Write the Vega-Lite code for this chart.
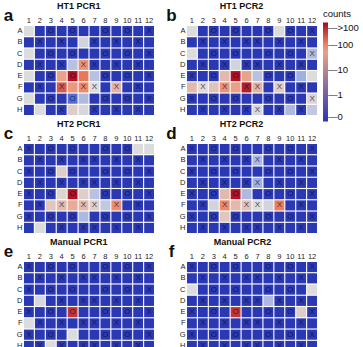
{
"$schema": "https://vega.github.io/schema/vega-lite/v6.json",
"padding": {"left": 3, "top": 2, "right": 0, "bottom": 0},
"background": "white",
"config": {
  "font": "Liberation Sans",
  "view": {"stroke": null},
  "axis": {"ticks": false, "domain": false, "grid": false, "labelFontSize": 7.5, "labelPadding": 2, "labelColor": "#222", "labelFont": "Liberation Sans"},
  "axisX": {"orient": "top", "labelAngle": 0},
  "axisY": {"titleAngle": 0, "titleFontSize": 17, "titleFontWeight": "bold", "titleX": -16, "titleY": -6, "titleAlign": "center", "titleBaseline": "alphabetic", "titleColor": "#111", "titleFont": "Liberation Sans"},
  "title": {"fontSize": 9, "fontWeight": "bold", "font": "Liberation Sans", "frame": "bounds", "anchor": "middle", "offset": -5, "color": "#111"},
  "legend": {"titleFont": "Liberation Sans", "labelFont": "Liberation Sans"}
},
"data": {"values": [
{"p":"a","r":"A","c":1,"v":10,"s":""},{"p":"a","r":"A","c":2,"v":0,"s":""},{"p":"a","r":"A","c":3,"v":0,"s":"O"},{"p":"a","r":"A","c":4,"v":0,"s":""},{"p":"a","r":"A","c":5,"v":0,"s":"O"},{"p":"a","r":"A","c":6,"v":0,"s":""},{"p":"a","r":"A","c":7,"v":0,"s":""},{"p":"a","r":"A","c":8,"v":0,"s":"O"},{"p":"a","r":"A","c":9,"v":0,"s":""},{"p":"a","r":"A","c":10,"v":0,"s":"O"},{"p":"a","r":"A","c":11,"v":0,"s":""},{"p":"a","r":"A","c":12,"v":0,"s":"X"},
{"p":"a","r":"B","c":1,"v":0,"s":""},{"p":"a","r":"B","c":2,"v":0,"s":"X"},{"p":"a","r":"B","c":3,"v":0,"s":""},{"p":"a","r":"B","c":4,"v":0,"s":"X"},{"p":"a","r":"B","c":5,"v":0,"s":""},{"p":"a","r":"B","c":6,"v":8,"s":""},{"p":"a","r":"B","c":7,"v":0,"s":"X"},{"p":"a","r":"B","c":8,"v":0,"s":""},{"p":"a","r":"B","c":9,"v":0,"s":"X"},{"p":"a","r":"B","c":10,"v":0,"s":""},{"p":"a","r":"B","c":11,"v":0,"s":"X"},{"p":"a","r":"B","c":12,"v":0,"s":""},
{"p":"a","r":"C","c":1,"v":10,"s":""},{"p":"a","r":"C","c":2,"v":0,"s":""},{"p":"a","r":"C","c":3,"v":0,"s":"O"},{"p":"a","r":"C","c":4,"v":0,"s":""},{"p":"a","r":"C","c":5,"v":0,"s":"O"},{"p":"a","r":"C","c":6,"v":0,"s":""},{"p":"a","r":"C","c":7,"v":0,"s":""},{"p":"a","r":"C","c":8,"v":0,"s":"O"},{"p":"a","r":"C","c":9,"v":0,"s":""},{"p":"a","r":"C","c":10,"v":0,"s":"O"},{"p":"a","r":"C","c":11,"v":0,"s":""},{"p":"a","r":"C","c":12,"v":0,"s":"X"},
{"p":"a","r":"D","c":1,"v":0,"s":""},{"p":"a","r":"D","c":2,"v":0,"s":"X"},{"p":"a","r":"D","c":3,"v":0,"s":""},{"p":"a","r":"D","c":4,"v":0,"s":"X"},{"p":"a","r":"D","c":5,"v":5,"s":""},{"p":"a","r":"D","c":6,"v":70,"s":"X"},{"p":"a","r":"D","c":7,"v":0,"s":"X"},{"p":"a","r":"D","c":8,"v":0,"s":""},{"p":"a","r":"D","c":9,"v":0,"s":"X"},{"p":"a","r":"D","c":10,"v":0,"s":""},{"p":"a","r":"D","c":11,"v":0,"s":"X"},{"p":"a","r":"D","c":12,"v":0,"s":""},
{"p":"a","r":"E","c":1,"v":10,"s":""},{"p":"a","r":"E","c":2,"v":0,"s":""},{"p":"a","r":"E","c":3,"v":0,"s":"O"},{"p":"a","r":"E","c":4,"v":45,"s":""},{"p":"a","r":"E","c":5,"v":600,"s":"O"},{"p":"a","r":"E","c":6,"v":120,"s":""},{"p":"a","r":"E","c":7,"v":5,"s":""},{"p":"a","r":"E","c":8,"v":0,"s":"O"},{"p":"a","r":"E","c":9,"v":0,"s":""},{"p":"a","r":"E","c":10,"v":0,"s":"O"},{"p":"a","r":"E","c":11,"v":0,"s":""},{"p":"a","r":"E","c":12,"v":0,"s":"X"},
{"p":"a","r":"F","c":1,"v":0,"s":""},{"p":"a","r":"F","c":2,"v":0,"s":"X"},{"p":"a","r":"F","c":3,"v":0,"s":""},{"p":"a","r":"F","c":4,"v":200,"s":"X"},{"p":"a","r":"F","c":5,"v":60,"s":""},{"p":"a","r":"F","c":6,"v":90,"s":"X"},{"p":"a","r":"F","c":7,"v":10,"s":"X"},{"p":"a","r":"F","c":8,"v":0,"s":""},{"p":"a","r":"F","c":9,"v":30,"s":"X"},{"p":"a","r":"F","c":10,"v":0,"s":""},{"p":"a","r":"F","c":11,"v":0,"s":"X"},{"p":"a","r":"F","c":12,"v":0,"s":""},
{"p":"a","r":"G","c":1,"v":10,"s":""},{"p":"a","r":"G","c":2,"v":0,"s":""},{"p":"a","r":"G","c":3,"v":0,"s":"O"},{"p":"a","r":"G","c":4,"v":0,"s":""},{"p":"a","r":"G","c":5,"v":0.4,"s":"O"},{"p":"a","r":"G","c":6,"v":4,"s":""},{"p":"a","r":"G","c":7,"v":0,"s":""},{"p":"a","r":"G","c":8,"v":0,"s":"O"},{"p":"a","r":"G","c":9,"v":0,"s":""},{"p":"a","r":"G","c":10,"v":0,"s":"O"},{"p":"a","r":"G","c":11,"v":0,"s":""},{"p":"a","r":"G","c":12,"v":0,"s":"X"},
{"p":"a","r":"H","c":1,"v":0,"s":""},{"p":"a","r":"H","c":2,"v":10,"s":""},{"p":"a","r":"H","c":3,"v":0,"s":""},{"p":"a","r":"H","c":4,"v":0,"s":"X"},{"p":"a","r":"H","c":5,"v":15,"s":""},{"p":"a","r":"H","c":6,"v":9,"s":""},{"p":"a","r":"H","c":7,"v":0,"s":"X"},{"p":"a","r":"H","c":8,"v":0,"s":""},{"p":"a","r":"H","c":9,"v":0,"s":"X"},{"p":"a","r":"H","c":10,"v":0,"s":""},{"p":"a","r":"H","c":11,"v":0,"s":"X"},{"p":"a","r":"H","c":12,"v":0,"s":""},

{"p":"b","r":"A","c":1,"v":10,"s":""},{"p":"b","r":"A","c":2,"v":0,"s":""},{"p":"b","r":"A","c":3,"v":0,"s":"O"},{"p":"b","r":"A","c":4,"v":0,"s":""},{"p":"b","r":"A","c":5,"v":0,"s":"O"},{"p":"b","r":"A","c":6,"v":0,"s":""},{"p":"b","r":"A","c":7,"v":0,"s":""},{"p":"b","r":"A","c":8,"v":0,"s":"O"},{"p":"b","r":"A","c":9,"v":10,"s":""},{"p":"b","r":"A","c":10,"v":0,"s":"O"},{"p":"b","r":"A","c":11,"v":0,"s":""},{"p":"b","r":"A","c":12,"v":0,"s":"X"},
{"p":"b","r":"B","c":1,"v":0,"s":""},{"p":"b","r":"B","c":2,"v":0,"s":"X"},{"p":"b","r":"B","c":3,"v":0,"s":""},{"p":"b","r":"B","c":4,"v":0,"s":"X"},{"p":"b","r":"B","c":5,"v":0,"s":""},{"p":"b","r":"B","c":6,"v":0,"s":"X"},{"p":"b","r":"B","c":7,"v":0,"s":"X"},{"p":"b","r":"B","c":8,"v":0,"s":""},{"p":"b","r":"B","c":9,"v":0,"s":"X"},{"p":"b","r":"B","c":10,"v":0,"s":""},{"p":"b","r":"B","c":11,"v":0,"s":"X"},{"p":"b","r":"B","c":12,"v":0,"s":""},
{"p":"b","r":"C","c":1,"v":10,"s":""},{"p":"b","r":"C","c":2,"v":0,"s":""},{"p":"b","r":"C","c":3,"v":0,"s":"O"},{"p":"b","r":"C","c":4,"v":0,"s":""},{"p":"b","r":"C","c":5,"v":0,"s":"O"},{"p":"b","r":"C","c":6,"v":0,"s":""},{"p":"b","r":"C","c":7,"v":0,"s":""},{"p":"b","r":"C","c":8,"v":0,"s":"O"},{"p":"b","r":"C","c":9,"v":0,"s":""},{"p":"b","r":"C","c":10,"v":0,"s":"O"},{"p":"b","r":"C","c":11,"v":0,"s":""},{"p":"b","r":"C","c":12,"v":4,"s":"X"},
{"p":"b","r":"D","c":1,"v":0,"s":""},{"p":"b","r":"D","c":2,"v":0,"s":"X"},{"p":"b","r":"D","c":3,"v":0,"s":""},{"p":"b","r":"D","c":4,"v":0,"s":"X"},{"p":"b","r":"D","c":5,"v":8,"s":""},{"p":"b","r":"D","c":6,"v":0,"s":"X"},{"p":"b","r":"D","c":7,"v":0,"s":"X"},{"p":"b","r":"D","c":8,"v":0,"s":""},{"p":"b","r":"D","c":9,"v":0,"s":"X"},{"p":"b","r":"D","c":10,"v":0,"s":""},{"p":"b","r":"D","c":11,"v":0,"s":"X"},{"p":"b","r":"D","c":12,"v":0,"s":""},
{"p":"b","r":"E","c":1,"v":0,"s":"X"},{"p":"b","r":"E","c":2,"v":0,"s":""},{"p":"b","r":"E","c":3,"v":0,"s":"O"},{"p":"b","r":"E","c":4,"v":25,"s":""},{"p":"b","r":"E","c":5,"v":600,"s":"O"},{"p":"b","r":"E","c":6,"v":45,"s":""},{"p":"b","r":"E","c":7,"v":5,"s":""},{"p":"b","r":"E","c":8,"v":0,"s":"O"},{"p":"b","r":"E","c":9,"v":0,"s":""},{"p":"b","r":"E","c":10,"v":0,"s":"O"},{"p":"b","r":"E","c":11,"v":3,"s":""},{"p":"b","r":"E","c":12,"v":10,"s":""},
{"p":"b","r":"F","c":1,"v":25,"s":""},{"p":"b","r":"F","c":2,"v":10,"s":"X"},{"p":"b","r":"F","c":3,"v":20,"s":""},{"p":"b","r":"F","c":4,"v":70,"s":"X"},{"p":"b","r":"F","c":5,"v":50,"s":""},{"p":"b","r":"F","c":6,"v":500,"s":"X"},{"p":"b","r":"F","c":7,"v":30,"s":"X"},{"p":"b","r":"F","c":8,"v":0,"s":""},{"p":"b","r":"F","c":9,"v":15,"s":"X"},{"p":"b","r":"F","c":10,"v":0,"s":""},{"p":"b","r":"F","c":11,"v":0,"s":"X"},{"p":"b","r":"F","c":12,"v":0,"s":""},
{"p":"b","r":"G","c":1,"v":0,"s":"X"},{"p":"b","r":"G","c":2,"v":0,"s":""},{"p":"b","r":"G","c":3,"v":0,"s":"O"},{"p":"b","r":"G","c":4,"v":0,"s":""},{"p":"b","r":"G","c":5,"v":0,"s":"O"},{"p":"b","r":"G","c":6,"v":0,"s":""},{"p":"b","r":"G","c":7,"v":0,"s":""},{"p":"b","r":"G","c":8,"v":0,"s":"O"},{"p":"b","r":"G","c":9,"v":0,"s":""},{"p":"b","r":"G","c":10,"v":0,"s":"O"},{"p":"b","r":"G","c":11,"v":0,"s":""},{"p":"b","r":"G","c":12,"v":12,"s":"X"},
{"p":"b","r":"H","c":1,"v":0,"s":""},{"p":"b","r":"H","c":2,"v":0,"s":"X"},{"p":"b","r":"H","c":3,"v":0,"s":""},{"p":"b","r":"H","c":4,"v":0,"s":"X"},{"p":"b","r":"H","c":5,"v":0,"s":""},{"p":"b","r":"H","c":6,"v":0,"s":"X"},{"p":"b","r":"H","c":7,"v":9,"s":"X"},{"p":"b","r":"H","c":8,"v":0,"s":""},{"p":"b","r":"H","c":9,"v":0,"s":"X"},{"p":"b","r":"H","c":10,"v":4,"s":""},{"p":"b","r":"H","c":11,"v":0,"s":"X"},{"p":"b","r":"H","c":12,"v":6,"s":""},

{"p":"c","r":"A","c":1,"v":0,"s":"X"},{"p":"c","r":"A","c":2,"v":0,"s":""},{"p":"c","r":"A","c":3,"v":0,"s":"O"},{"p":"c","r":"A","c":4,"v":0,"s":""},{"p":"c","r":"A","c":5,"v":0,"s":"O"},{"p":"c","r":"A","c":6,"v":0,"s":""},{"p":"c","r":"A","c":7,"v":0,"s":""},{"p":"c","r":"A","c":8,"v":0,"s":"O"},{"p":"c","r":"A","c":9,"v":0,"s":""},{"p":"c","r":"A","c":10,"v":0,"s":"O"},{"p":"c","r":"A","c":11,"v":10,"s":""},{"p":"c","r":"A","c":12,"v":10,"s":""},
{"p":"c","r":"B","c":1,"v":0,"s":""},{"p":"c","r":"B","c":2,"v":0,"s":"X"},{"p":"c","r":"B","c":3,"v":0,"s":""},{"p":"c","r":"B","c":4,"v":0,"s":"X"},{"p":"c","r":"B","c":5,"v":0,"s":""},{"p":"c","r":"B","c":6,"v":0,"s":"X"},{"p":"c","r":"B","c":7,"v":0,"s":"X"},{"p":"c","r":"B","c":8,"v":0,"s":""},{"p":"c","r":"B","c":9,"v":0,"s":"X"},{"p":"c","r":"B","c":10,"v":0,"s":""},{"p":"c","r":"B","c":11,"v":0,"s":"X"},{"p":"c","r":"B","c":12,"v":0,"s":""},
{"p":"c","r":"C","c":1,"v":0,"s":"X"},{"p":"c","r":"C","c":2,"v":0,"s":""},{"p":"c","r":"C","c":3,"v":0,"s":"O"},{"p":"c","r":"C","c":4,"v":15,"s":""},{"p":"c","r":"C","c":5,"v":0,"s":"O"},{"p":"c","r":"C","c":6,"v":0,"s":""},{"p":"c","r":"C","c":7,"v":0,"s":""},{"p":"c","r":"C","c":8,"v":0,"s":"O"},{"p":"c","r":"C","c":9,"v":0,"s":""},{"p":"c","r":"C","c":10,"v":0,"s":"O"},{"p":"c","r":"C","c":11,"v":0,"s":""},{"p":"c","r":"C","c":12,"v":0,"s":"X"},
{"p":"c","r":"D","c":1,"v":0,"s":""},{"p":"c","r":"D","c":2,"v":0,"s":"X"},{"p":"c","r":"D","c":3,"v":0,"s":""},{"p":"c","r":"D","c":4,"v":0,"s":"X"},{"p":"c","r":"D","c":5,"v":0,"s":""},{"p":"c","r":"D","c":6,"v":0,"s":"X"},{"p":"c","r":"D","c":7,"v":0,"s":"X"},{"p":"c","r":"D","c":8,"v":0,"s":""},{"p":"c","r":"D","c":9,"v":0,"s":"X"},{"p":"c","r":"D","c":10,"v":0,"s":""},{"p":"c","r":"D","c":11,"v":0,"s":"X"},{"p":"c","r":"D","c":12,"v":0,"s":""},
{"p":"c","r":"E","c":1,"v":0,"s":"X"},{"p":"c","r":"E","c":2,"v":0,"s":""},{"p":"c","r":"E","c":3,"v":0,"s":"O"},{"p":"c","r":"E","c":4,"v":12,"s":""},{"p":"c","r":"E","c":5,"v":600,"s":"O"},{"p":"c","r":"E","c":6,"v":15,"s":""},{"p":"c","r":"E","c":7,"v":5,"s":""},{"p":"c","r":"E","c":8,"v":0,"s":"O"},{"p":"c","r":"E","c":9,"v":0,"s":""},{"p":"c","r":"E","c":10,"v":0,"s":"O"},{"p":"c","r":"E","c":11,"v":0,"s":""},{"p":"c","r":"E","c":12,"v":0,"s":"X"},
{"p":"c","r":"F","c":1,"v":0,"s":""},{"p":"c","r":"F","c":2,"v":0,"s":"X"},{"p":"c","r":"F","c":3,"v":18,"s":""},{"p":"c","r":"F","c":4,"v":25,"s":"X"},{"p":"c","r":"F","c":5,"v":35,"s":""},{"p":"c","r":"F","c":6,"v":25,"s":"X"},{"p":"c","r":"F","c":7,"v":15,"s":"X"},{"p":"c","r":"F","c":8,"v":6,"s":""},{"p":"c","r":"F","c":9,"v":80,"s":"X"},{"p":"c","r":"F","c":10,"v":0,"s":""},{"p":"c","r":"F","c":11,"v":0,"s":"X"},{"p":"c","r":"F","c":12,"v":0,"s":""},
{"p":"c","r":"G","c":1,"v":0,"s":"X"},{"p":"c","r":"G","c":2,"v":0,"s":""},{"p":"c","r":"G","c":3,"v":0,"s":"O"},{"p":"c","r":"G","c":4,"v":0,"s":""},{"p":"c","r":"G","c":5,"v":0,"s":"O"},{"p":"c","r":"G","c":6,"v":4,"s":""},{"p":"c","r":"G","c":7,"v":0,"s":""},{"p":"c","r":"G","c":8,"v":0,"s":"O"},{"p":"c","r":"G","c":9,"v":0,"s":""},{"p":"c","r":"G","c":10,"v":0,"s":"O"},{"p":"c","r":"G","c":11,"v":0,"s":""},{"p":"c","r":"G","c":12,"v":0,"s":"X"},
{"p":"c","r":"H","c":1,"v":0,"s":""},{"p":"c","r":"H","c":2,"v":10,"s":""},{"p":"c","r":"H","c":3,"v":0,"s":""},{"p":"c","r":"H","c":4,"v":0,"s":"X"},{"p":"c","r":"H","c":5,"v":0,"s":""},{"p":"c","r":"H","c":6,"v":0,"s":"X"},{"p":"c","r":"H","c":7,"v":0,"s":"X"},{"p":"c","r":"H","c":8,"v":0,"s":""},{"p":"c","r":"H","c":9,"v":0,"s":"X"},{"p":"c","r":"H","c":10,"v":0,"s":""},{"p":"c","r":"H","c":11,"v":0,"s":"X"},{"p":"c","r":"H","c":12,"v":0,"s":""},

{"p":"d","r":"A","c":1,"v":0,"s":"X"},{"p":"d","r":"A","c":2,"v":0,"s":""},{"p":"d","r":"A","c":3,"v":0,"s":"O"},{"p":"d","r":"A","c":4,"v":0,"s":""},{"p":"d","r":"A","c":5,"v":0,"s":"O"},{"p":"d","r":"A","c":6,"v":0,"s":""},{"p":"d","r":"A","c":7,"v":0,"s":""},{"p":"d","r":"A","c":8,"v":0,"s":"O"},{"p":"d","r":"A","c":9,"v":0,"s":""},{"p":"d","r":"A","c":10,"v":0,"s":"O"},{"p":"d","r":"A","c":11,"v":0,"s":""},{"p":"d","r":"A","c":12,"v":0,"s":"X"},
{"p":"d","r":"B","c":1,"v":0,"s":""},{"p":"d","r":"B","c":2,"v":0,"s":"X"},{"p":"d","r":"B","c":3,"v":0,"s":""},{"p":"d","r":"B","c":4,"v":0,"s":"X"},{"p":"d","r":"B","c":5,"v":0,"s":""},{"p":"d","r":"B","c":6,"v":0,"s":"X"},{"p":"d","r":"B","c":7,"v":4,"s":"X"},{"p":"d","r":"B","c":8,"v":0,"s":""},{"p":"d","r":"B","c":9,"v":0,"s":"X"},{"p":"d","r":"B","c":10,"v":0,"s":""},{"p":"d","r":"B","c":11,"v":0,"s":"X"},{"p":"d","r":"B","c":12,"v":0,"s":""},
{"p":"d","r":"C","c":1,"v":0,"s":"X"},{"p":"d","r":"C","c":2,"v":0,"s":""},{"p":"d","r":"C","c":3,"v":0,"s":"O"},{"p":"d","r":"C","c":4,"v":0,"s":""},{"p":"d","r":"C","c":5,"v":0,"s":"O"},{"p":"d","r":"C","c":6,"v":0,"s":""},{"p":"d","r":"C","c":7,"v":0,"s":""},{"p":"d","r":"C","c":8,"v":0,"s":"O"},{"p":"d","r":"C","c":9,"v":0,"s":""},{"p":"d","r":"C","c":10,"v":0,"s":"O"},{"p":"d","r":"C","c":11,"v":0,"s":""},{"p":"d","r":"C","c":12,"v":0,"s":"X"},
{"p":"d","r":"D","c":1,"v":0,"s":""},{"p":"d","r":"D","c":2,"v":0,"s":"X"},{"p":"d","r":"D","c":3,"v":0,"s":""},{"p":"d","r":"D","c":4,"v":0,"s":"X"},{"p":"d","r":"D","c":5,"v":0,"s":""},{"p":"d","r":"D","c":6,"v":0,"s":"X"},{"p":"d","r":"D","c":7,"v":3,"s":"X"},{"p":"d","r":"D","c":8,"v":0,"s":""},{"p":"d","r":"D","c":9,"v":0,"s":"X"},{"p":"d","r":"D","c":10,"v":0,"s":""},{"p":"d","r":"D","c":11,"v":0,"s":"X"},{"p":"d","r":"D","c":12,"v":0,"s":""},
{"p":"d","r":"E","c":1,"v":0,"s":"X"},{"p":"d","r":"E","c":2,"v":0,"s":""},{"p":"d","r":"E","c":3,"v":0,"s":"O"},{"p":"d","r":"E","c":4,"v":25,"s":""},{"p":"d","r":"E","c":5,"v":600,"s":"O"},{"p":"d","r":"E","c":6,"v":4,"s":""},{"p":"d","r":"E","c":7,"v":0,"s":""},{"p":"d","r":"E","c":8,"v":0,"s":"O"},{"p":"d","r":"E","c":9,"v":0,"s":""},{"p":"d","r":"E","c":10,"v":0,"s":"O"},{"p":"d","r":"E","c":11,"v":0,"s":""},{"p":"d","r":"E","c":12,"v":0,"s":"X"},
{"p":"d","r":"F","c":1,"v":0,"s":""},{"p":"d","r":"F","c":2,"v":0,"s":"X"},{"p":"d","r":"F","c":3,"v":8,"s":""},{"p":"d","r":"F","c":4,"v":90,"s":"X"},{"p":"d","r":"F","c":5,"v":25,"s":""},{"p":"d","r":"F","c":6,"v":20,"s":"X"},{"p":"d","r":"F","c":7,"v":10,"s":"X"},{"p":"d","r":"F","c":8,"v":8,"s":""},{"p":"d","r":"F","c":9,"v":110,"s":"X"},{"p":"d","r":"F","c":10,"v":0,"s":""},{"p":"d","r":"F","c":11,"v":0,"s":"X"},{"p":"d","r":"F","c":12,"v":0,"s":""},
{"p":"d","r":"G","c":1,"v":0,"s":"X"},{"p":"d","r":"G","c":2,"v":0,"s":""},{"p":"d","r":"G","c":3,"v":0,"s":"O"},{"p":"d","r":"G","c":4,"v":18,"s":""},{"p":"d","r":"G","c":5,"v":0,"s":"O"},{"p":"d","r":"G","c":6,"v":0,"s":""},{"p":"d","r":"G","c":7,"v":0,"s":""},{"p":"d","r":"G","c":8,"v":0,"s":"O"},{"p":"d","r":"G","c":9,"v":0,"s":""},{"p":"d","r":"G","c":10,"v":0,"s":"O"},{"p":"d","r":"G","c":11,"v":0,"s":""},{"p":"d","r":"G","c":12,"v":0,"s":"X"},
{"p":"d","r":"H","c":1,"v":0,"s":""},{"p":"d","r":"H","c":2,"v":0,"s":"X"},{"p":"d","r":"H","c":3,"v":0,"s":""},{"p":"d","r":"H","c":4,"v":0,"s":"X"},{"p":"d","r":"H","c":5,"v":0,"s":""},{"p":"d","r":"H","c":6,"v":0,"s":"X"},{"p":"d","r":"H","c":7,"v":0,"s":"X"},{"p":"d","r":"H","c":8,"v":0,"s":""},{"p":"d","r":"H","c":9,"v":0,"s":"X"},{"p":"d","r":"H","c":10,"v":0,"s":""},{"p":"d","r":"H","c":11,"v":0,"s":"X"},{"p":"d","r":"H","c":12,"v":0,"s":""},

{"p":"e","r":"A","c":1,"v":0,"s":"X"},{"p":"e","r":"A","c":2,"v":0,"s":""},{"p":"e","r":"A","c":3,"v":0,"s":"O"},{"p":"e","r":"A","c":4,"v":0,"s":""},{"p":"e","r":"A","c":5,"v":0,"s":"O"},{"p":"e","r":"A","c":6,"v":0,"s":""},{"p":"e","r":"A","c":7,"v":0,"s":""},{"p":"e","r":"A","c":8,"v":0,"s":"O"},{"p":"e","r":"A","c":9,"v":0,"s":""},{"p":"e","r":"A","c":10,"v":0,"s":"O"},{"p":"e","r":"A","c":11,"v":0,"s":""},{"p":"e","r":"A","c":12,"v":0,"s":"X"},
{"p":"e","r":"B","c":1,"v":0,"s":""},{"p":"e","r":"B","c":2,"v":0,"s":"X"},{"p":"e","r":"B","c":3,"v":0,"s":""},{"p":"e","r":"B","c":4,"v":0,"s":"X"},{"p":"e","r":"B","c":5,"v":0,"s":""},{"p":"e","r":"B","c":6,"v":0,"s":"X"},{"p":"e","r":"B","c":7,"v":0,"s":"X"},{"p":"e","r":"B","c":8,"v":0,"s":""},{"p":"e","r":"B","c":9,"v":0,"s":"X"},{"p":"e","r":"B","c":10,"v":0,"s":""},{"p":"e","r":"B","c":11,"v":0,"s":"X"},{"p":"e","r":"B","c":12,"v":0,"s":""},
{"p":"e","r":"C","c":1,"v":0,"s":"X"},{"p":"e","r":"C","c":2,"v":0,"s":""},{"p":"e","r":"C","c":3,"v":0,"s":"O"},{"p":"e","r":"C","c":4,"v":0,"s":""},{"p":"e","r":"C","c":5,"v":0,"s":"O"},{"p":"e","r":"C","c":6,"v":0,"s":""},{"p":"e","r":"C","c":7,"v":0,"s":""},{"p":"e","r":"C","c":8,"v":0,"s":"O"},{"p":"e","r":"C","c":9,"v":0,"s":""},{"p":"e","r":"C","c":10,"v":0,"s":"O"},{"p":"e","r":"C","c":11,"v":0,"s":""},{"p":"e","r":"C","c":12,"v":0,"s":"X"},
{"p":"e","r":"D","c":1,"v":0,"s":""},{"p":"e","r":"D","c":2,"v":9,"s":""},{"p":"e","r":"D","c":3,"v":0,"s":""},{"p":"e","r":"D","c":4,"v":0,"s":"X"},{"p":"e","r":"D","c":5,"v":0,"s":""},{"p":"e","r":"D","c":6,"v":0,"s":"X"},{"p":"e","r":"D","c":7,"v":0,"s":"X"},{"p":"e","r":"D","c":8,"v":0,"s":""},{"p":"e","r":"D","c":9,"v":0,"s":"X"},{"p":"e","r":"D","c":10,"v":0,"s":""},{"p":"e","r":"D","c":11,"v":0,"s":"X"},{"p":"e","r":"D","c":12,"v":0,"s":""},
{"p":"e","r":"E","c":1,"v":0,"s":"X"},{"p":"e","r":"E","c":2,"v":0,"s":""},{"p":"e","r":"E","c":3,"v":0,"s":"O"},{"p":"e","r":"E","c":4,"v":0,"s":""},{"p":"e","r":"E","c":5,"v":350,"s":"O"},{"p":"e","r":"E","c":6,"v":0,"s":""},{"p":"e","r":"E","c":7,"v":0,"s":""},{"p":"e","r":"E","c":8,"v":0,"s":"O"},{"p":"e","r":"E","c":9,"v":0,"s":""},{"p":"e","r":"E","c":10,"v":0,"s":"O"},{"p":"e","r":"E","c":11,"v":0,"s":""},{"p":"e","r":"E","c":12,"v":0,"s":"X"},
{"p":"e","r":"F","c":1,"v":10,"s":""},{"p":"e","r":"F","c":2,"v":0,"s":"X"},{"p":"e","r":"F","c":3,"v":0,"s":""},{"p":"e","r":"F","c":4,"v":0,"s":"X"},{"p":"e","r":"F","c":5,"v":0,"s":""},{"p":"e","r":"F","c":6,"v":0,"s":"X"},{"p":"e","r":"F","c":7,"v":0,"s":"X"},{"p":"e","r":"F","c":8,"v":0,"s":""},{"p":"e","r":"F","c":9,"v":0,"s":"X"},{"p":"e","r":"F","c":10,"v":0,"s":""},{"p":"e","r":"F","c":11,"v":0,"s":"X"},{"p":"e","r":"F","c":12,"v":0,"s":""},
{"p":"e","r":"G","c":1,"v":0,"s":"X"},{"p":"e","r":"G","c":2,"v":0,"s":""},{"p":"e","r":"G","c":3,"v":0,"s":"O"},{"p":"e","r":"G","c":4,"v":0,"s":""},{"p":"e","r":"G","c":5,"v":10,"s":""},{"p":"e","r":"G","c":6,"v":0,"s":""},{"p":"e","r":"G","c":7,"v":0,"s":""},{"p":"e","r":"G","c":8,"v":0,"s":"O"},{"p":"e","r":"G","c":9,"v":0,"s":""},{"p":"e","r":"G","c":10,"v":0,"s":"O"},{"p":"e","r":"G","c":11,"v":0,"s":""},{"p":"e","r":"G","c":12,"v":0,"s":"X"},
{"p":"e","r":"H","c":1,"v":0,"s":""},{"p":"e","r":"H","c":2,"v":0,"s":"X"},{"p":"e","r":"H","c":3,"v":10,"s":""},{"p":"e","r":"H","c":4,"v":0,"s":"X"},{"p":"e","r":"H","c":5,"v":0,"s":""},{"p":"e","r":"H","c":6,"v":0,"s":"X"},{"p":"e","r":"H","c":7,"v":0,"s":"X"},{"p":"e","r":"H","c":8,"v":0,"s":""},{"p":"e","r":"H","c":9,"v":0,"s":"X"},{"p":"e","r":"H","c":10,"v":0,"s":""},{"p":"e","r":"H","c":11,"v":0,"s":"X"},{"p":"e","r":"H","c":12,"v":0,"s":""},

{"p":"f","r":"A","c":1,"v":0,"s":"X"},{"p":"f","r":"A","c":2,"v":0,"s":""},{"p":"f","r":"A","c":3,"v":0,"s":"O"},{"p":"f","r":"A","c":4,"v":0,"s":""},{"p":"f","r":"A","c":5,"v":0,"s":"O"},{"p":"f","r":"A","c":6,"v":0,"s":""},{"p":"f","r":"A","c":7,"v":0,"s":""},{"p":"f","r":"A","c":8,"v":0,"s":"O"},{"p":"f","r":"A","c":9,"v":0,"s":""},{"p":"f","r":"A","c":10,"v":0,"s":"O"},{"p":"f","r":"A","c":11,"v":0,"s":""},{"p":"f","r":"A","c":12,"v":0,"s":"X"},
{"p":"f","r":"B","c":1,"v":0,"s":""},{"p":"f","r":"B","c":2,"v":0,"s":"X"},{"p":"f","r":"B","c":3,"v":0,"s":""},{"p":"f","r":"B","c":4,"v":0,"s":"X"},{"p":"f","r":"B","c":5,"v":0,"s":""},{"p":"f","r":"B","c":6,"v":0,"s":"X"},{"p":"f","r":"B","c":7,"v":0,"s":"X"},{"p":"f","r":"B","c":8,"v":0,"s":""},{"p":"f","r":"B","c":9,"v":0,"s":"X"},{"p":"f","r":"B","c":10,"v":0,"s":""},{"p":"f","r":"B","c":11,"v":0,"s":"X"},{"p":"f","r":"B","c":12,"v":0,"s":""},
{"p":"f","r":"C","c":1,"v":10,"s":""},{"p":"f","r":"C","c":2,"v":0,"s":""},{"p":"f","r":"C","c":3,"v":0,"s":"O"},{"p":"f","r":"C","c":4,"v":0,"s":""},{"p":"f","r":"C","c":5,"v":0,"s":"O"},{"p":"f","r":"C","c":6,"v":0,"s":""},{"p":"f","r":"C","c":7,"v":0,"s":""},{"p":"f","r":"C","c":8,"v":0,"s":"O"},{"p":"f","r":"C","c":9,"v":0,"s":""},{"p":"f","r":"C","c":10,"v":0,"s":"O"},{"p":"f","r":"C","c":11,"v":0,"s":""},{"p":"f","r":"C","c":12,"v":10,"s":""},
{"p":"f","r":"D","c":1,"v":0,"s":""},{"p":"f","r":"D","c":2,"v":0,"s":"X"},{"p":"f","r":"D","c":3,"v":0,"s":""},{"p":"f","r":"D","c":4,"v":0,"s":"X"},{"p":"f","r":"D","c":5,"v":0,"s":""},{"p":"f","r":"D","c":6,"v":0,"s":"X"},{"p":"f","r":"D","c":7,"v":0,"s":"X"},{"p":"f","r":"D","c":8,"v":4,"s":""},{"p":"f","r":"D","c":9,"v":0,"s":"X"},{"p":"f","r":"D","c":10,"v":0,"s":""},{"p":"f","r":"D","c":11,"v":0,"s":"X"},{"p":"f","r":"D","c":12,"v":0,"s":""},
{"p":"f","r":"E","c":1,"v":0,"s":"X"},{"p":"f","r":"E","c":2,"v":0,"s":""},{"p":"f","r":"E","c":3,"v":0,"s":"O"},{"p":"f","r":"E","c":4,"v":0,"s":""},{"p":"f","r":"E","c":5,"v":350,"s":"O"},{"p":"f","r":"E","c":6,"v":0,"s":""},{"p":"f","r":"E","c":7,"v":0,"s":""},{"p":"f","r":"E","c":8,"v":0,"s":"O"},{"p":"f","r":"E","c":9,"v":0,"s":""},{"p":"f","r":"E","c":10,"v":0,"s":"O"},{"p":"f","r":"E","c":11,"v":15,"s":""},{"p":"f","r":"E","c":12,"v":0,"s":"X"},
{"p":"f","r":"F","c":1,"v":0,"s":""},{"p":"f","r":"F","c":2,"v":0,"s":"X"},{"p":"f","r":"F","c":3,"v":0,"s":""},{"p":"f","r":"F","c":4,"v":0,"s":"X"},{"p":"f","r":"F","c":5,"v":0,"s":""},{"p":"f","r":"F","c":6,"v":0,"s":"X"},{"p":"f","r":"F","c":7,"v":0,"s":"X"},{"p":"f","r":"F","c":8,"v":0,"s":""},{"p":"f","r":"F","c":9,"v":0,"s":"X"},{"p":"f","r":"F","c":10,"v":0,"s":""},{"p":"f","r":"F","c":11,"v":0,"s":"X"},{"p":"f","r":"F","c":12,"v":0,"s":""},
{"p":"f","r":"G","c":1,"v":0,"s":"X"},{"p":"f","r":"G","c":2,"v":0,"s":""},{"p":"f","r":"G","c":3,"v":0,"s":"O"},{"p":"f","r":"G","c":4,"v":0,"s":""},{"p":"f","r":"G","c":5,"v":0,"s":"O"},{"p":"f","r":"G","c":6,"v":0,"s":""},{"p":"f","r":"G","c":7,"v":0,"s":""},{"p":"f","r":"G","c":8,"v":0,"s":"O"},{"p":"f","r":"G","c":9,"v":0,"s":""},{"p":"f","r":"G","c":10,"v":0,"s":"O"},{"p":"f","r":"G","c":11,"v":0,"s":""},{"p":"f","r":"G","c":12,"v":0,"s":"X"},
{"p":"f","r":"H","c":1,"v":0,"s":""},{"p":"f","r":"H","c":2,"v":0,"s":"X"},{"p":"f","r":"H","c":3,"v":0,"s":""},{"p":"f","r":"H","c":4,"v":0,"s":"X"},{"p":"f","r":"H","c":5,"v":0,"s":""},{"p":"f","r":"H","c":6,"v":0,"s":"X"},{"p":"f","r":"H","c":7,"v":0,"s":"X"},{"p":"f","r":"H","c":8,"v":0,"s":""},{"p":"f","r":"H","c":9,"v":0,"s":"X"},{"p":"f","r":"H","c":10,"v":0,"s":""},{"p":"f","r":"H","c":11,"v":0,"s":"X"},{"p":"f","r":"H","c":12,"v":0,"s":""}
]},
"columns": 2,
"spacing": {"row": 5, "column": 11},
"resolve": {"scale": {"color": "shared"}},
"concat": [
{"width": 130, "height": 89, "title": "HT1 PCR1", "transform": [{"filter": "datum.p === 'a'"}],
 "encoding": {"x": {"field": "c", "type": "ordinal", "scale": {"paddingInner": 0.1, "paddingOuter": 0}, "axis": {"title": null}},
  "y": {"field": "r", "type": "ordinal", "scale": {"paddingInner": 0.1, "paddingOuter": 0}, "axis": {"title": "a"}}},
 "layer": [
  {"mark": {"type": "rect"}, "encoding": {"color": {"field": "v", "type": "quantitative", "scale": {"type": "symlog", "constant": 0.111, "domain": [0, 1, 10, 100, 700], "range": ["#2a38b4", "#6a86ea", "#dcdcdc", "#ee8463", "#a8081f"], "interpolate": "rgb"}, "legend": {"title": "counts", "values": [0, 1, 10, 100, 700], "orient": "none", "legendX": 299, "legendY": -17, "gradientLength": 99, "gradientThickness": 5, "gradientStrokeWidth": 0, "labelExpr": "'\u2014' + (datum.value > 100 ? '>100' : datum.label)", "titleFontSize": 9.5, "titleFontWeight": "normal", "labelFontSize": 9.5, "labelOffset": 0, "labelBaseline": "middle", "titlePadding": 4, "labelColor": "#111", "titleColor": "#111"}}}},
  {"mark": {"type": "text", "fontSize": 8, "color": "#0d0d35", "opacity": 0.75, "font": "Liberation Sans"}, "encoding": {"text": {"field": "s"}}}
 ]},
{"width": 130, "height": 89, "title": "HT1 PCR2", "transform": [{"filter": "datum.p === 'b'"}],
 "encoding": {"x": {"field": "c", "type": "ordinal", "scale": {"paddingInner": 0.1, "paddingOuter": 0}, "axis": {"title": null}},
  "y": {"field": "r", "type": "ordinal", "scale": {"paddingInner": 0.1, "paddingOuter": 0}, "axis": {"title": "b"}}},
 "layer": [
  {"mark": {"type": "rect"}, "encoding": {"color": {"field": "v", "type": "quantitative", "scale": {"type": "symlog", "constant": 0.111, "domain": [0, 1, 10, 100, 700], "range": ["#2a38b4", "#6a86ea", "#dcdcdc", "#ee8463", "#a8081f"], "interpolate": "rgb"}, "legend": {"title": "counts", "values": [0, 1, 10, 100, 700], "orient": "none", "legendX": 299, "legendY": -17, "gradientLength": 99, "gradientThickness": 5, "gradientStrokeWidth": 0, "labelExpr": "'\u2014' + (datum.value > 100 ? '>100' : datum.label)", "titleFontSize": 9.5, "titleFontWeight": "normal", "labelFontSize": 9.5, "labelOffset": 0, "labelBaseline": "middle", "titlePadding": 4, "labelColor": "#111", "titleColor": "#111"}}}},
  {"mark": {"type": "text", "fontSize": 8, "color": "#0d0d35", "opacity": 0.75, "font": "Liberation Sans"}, "encoding": {"text": {"field": "s"}}}
 ]},
{"width": 130, "height": 89, "title": "HT2 PCR1", "transform": [{"filter": "datum.p === 'c'"}],
 "encoding": {"x": {"field": "c", "type": "ordinal", "scale": {"paddingInner": 0.1, "paddingOuter": 0}, "axis": {"title": null}},
  "y": {"field": "r", "type": "ordinal", "scale": {"paddingInner": 0.1, "paddingOuter": 0}, "axis": {"title": "c"}}},
 "layer": [
  {"mark": {"type": "rect"}, "encoding": {"color": {"field": "v", "type": "quantitative", "scale": {"type": "symlog", "constant": 0.111, "domain": [0, 1, 10, 100, 700], "range": ["#2a38b4", "#6a86ea", "#dcdcdc", "#ee8463", "#a8081f"], "interpolate": "rgb"}, "legend": {"title": "counts", "values": [0, 1, 10, 100, 700], "orient": "none", "legendX": 299, "legendY": -17, "gradientLength": 99, "gradientThickness": 5, "gradientStrokeWidth": 0, "labelExpr": "'\u2014' + (datum.value > 100 ? '>100' : datum.label)", "titleFontSize": 9.5, "titleFontWeight": "normal", "labelFontSize": 9.5, "labelOffset": 0, "labelBaseline": "middle", "titlePadding": 4, "labelColor": "#111", "titleColor": "#111"}}}},
  {"mark": {"type": "text", "fontSize": 8, "color": "#0d0d35", "opacity": 0.75, "font": "Liberation Sans"}, "encoding": {"text": {"field": "s"}}}
 ]},
{"width": 130, "height": 89, "title": "HT2 PCR2", "transform": [{"filter": "datum.p === 'd'"}],
 "encoding": {"x": {"field": "c", "type": "ordinal", "scale": {"paddingInner": 0.1, "paddingOuter": 0}, "axis": {"title": null}},
  "y": {"field": "r", "type": "ordinal", "scale": {"paddingInner": 0.1, "paddingOuter": 0}, "axis": {"title": "d"}}},
 "layer": [
  {"mark": {"type": "rect"}, "encoding": {"color": {"field": "v", "type": "quantitative", "scale": {"type": "symlog", "constant": 0.111, "domain": [0, 1, 10, 100, 700], "range": ["#2a38b4", "#6a86ea", "#dcdcdc", "#ee8463", "#a8081f"], "interpolate": "rgb"}, "legend": {"title": "counts", "values": [0, 1, 10, 100, 700], "orient": "none", "legendX": 299, "legendY": -17, "gradientLength": 99, "gradientThickness": 5, "gradientStrokeWidth": 0, "labelExpr": "'\u2014' + (datum.value > 100 ? '>100' : datum.label)", "titleFontSize": 9.5, "titleFontWeight": "normal", "labelFontSize": 9.5, "labelOffset": 0, "labelBaseline": "middle", "titlePadding": 4, "labelColor": "#111", "titleColor": "#111"}}}},
  {"mark": {"type": "text", "fontSize": 8, "color": "#0d0d35", "opacity": 0.75, "font": "Liberation Sans"}, "encoding": {"text": {"field": "s"}}}
 ]},
{"width": 130, "height": 89, "title": "Manual PCR1", "transform": [{"filter": "datum.p === 'e'"}],
 "encoding": {"x": {"field": "c", "type": "ordinal", "scale": {"paddingInner": 0.1, "paddingOuter": 0}, "axis": {"title": null}},
  "y": {"field": "r", "type": "ordinal", "scale": {"paddingInner": 0.1, "paddingOuter": 0}, "axis": {"title": "e"}}},
 "layer": [
  {"mark": {"type": "rect"}, "encoding": {"color": {"field": "v", "type": "quantitative", "scale": {"type": "symlog", "constant": 0.111, "domain": [0, 1, 10, 100, 700], "range": ["#2a38b4", "#6a86ea", "#dcdcdc", "#ee8463", "#a8081f"], "interpolate": "rgb"}, "legend": {"title": "counts", "values": [0, 1, 10, 100, 700], "orient": "none", "legendX": 299, "legendY": -17, "gradientLength": 99, "gradientThickness": 5, "gradientStrokeWidth": 0, "labelExpr": "'\u2014' + (datum.value > 100 ? '>100' : datum.label)", "titleFontSize": 9.5, "titleFontWeight": "normal", "labelFontSize": 9.5, "labelOffset": 0, "labelBaseline": "middle", "titlePadding": 4, "labelColor": "#111", "titleColor": "#111"}}}},
  {"mark": {"type": "text", "fontSize": 8, "color": "#0d0d35", "opacity": 0.75, "font": "Liberation Sans"}, "encoding": {"text": {"field": "s"}}}
 ]},
{"width": 130, "height": 89, "title": "Manual PCR2", "transform": [{"filter": "datum.p === 'f'"}],
 "encoding": {"x": {"field": "c", "type": "ordinal", "scale": {"paddingInner": 0.1, "paddingOuter": 0}, "axis": {"title": null}},
  "y": {"field": "r", "type": "ordinal", "scale": {"paddingInner": 0.1, "paddingOuter": 0}, "axis": {"title": "f"}}},
 "layer": [
  {"mark": {"type": "rect"}, "encoding": {"color": {"field": "v", "type": "quantitative", "scale": {"type": "symlog", "constant": 0.111, "domain": [0, 1, 10, 100, 700], "range": ["#2a38b4", "#6a86ea", "#dcdcdc", "#ee8463", "#a8081f"], "interpolate": "rgb"}, "legend": {"title": "counts", "values": [0, 1, 10, 100, 700], "orient": "none", "legendX": 299, "legendY": -17, "gradientLength": 99, "gradientThickness": 5, "gradientStrokeWidth": 0, "labelExpr": "'\u2014' + (datum.value > 100 ? '>100' : datum.label)", "titleFontSize": 9.5, "titleFontWeight": "normal", "labelFontSize": 9.5, "labelOffset": 0, "labelBaseline": "middle", "titlePadding": 4, "labelColor": "#111", "titleColor": "#111"}}}},
  {"mark": {"type": "text", "fontSize": 8, "color": "#0d0d35", "opacity": 0.75, "font": "Liberation Sans"}, "encoding": {"text": {"field": "s"}}}
 ]}
]
}
